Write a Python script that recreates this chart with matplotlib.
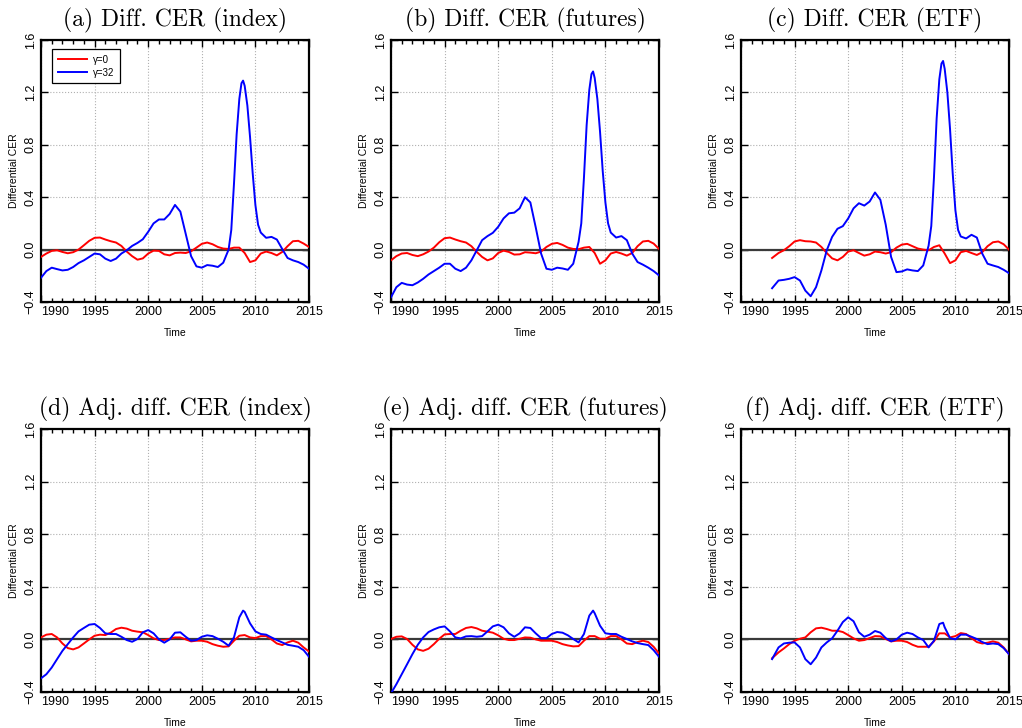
import numpy as np
import matplotlib.pyplot as plt
from matplotlib.ticker import MultipleLocator

plt.rcParams['font.family'] = ['Liberation Sans', 'DejaVu Sans']

# ---------- data ----------
half_years = np.arange(1990, 2015.01, 0.5)
etf_years = np.concatenate([[1992.9], np.arange(1993.5, 2015.01, 0.5)])

# finer sampling around the 2008 spike of the gamma=32 curves (top row)
spike_years = [2007.5, 2007.75, 2008, 2008.25, 2008.5, 2008.7, 2008.85, 2009.0,
               2009.25, 2009.5, 2009.75, 2010, 2010.25, 2010.5]
tail_years = np.arange(2011, 2015.01, 0.5)
yrs_spike = np.concatenate([np.arange(1990, 2007.01, 0.5), spike_years, tail_years])
yrs_spike_etf = np.concatenate([[1992.9], np.arange(1993.5, 2007.01, 0.5),
                                spike_years, tail_years])

# bottom row: half years plus the 2008.85 peak
yrs_adj = np.insert(half_years, 38, 2008.85)
yrs_adj_etf = np.insert(etf_years, 32, 2008.85)

red_a = [-0.056, -0.03, -0.01, -0.005, -0.018, -0.028, -0.02, 0.0, 0.033, 0.067,
         0.09, 0.092, 0.077, 0.064, 0.054, 0.028, -0.015, -0.05, -0.077, -0.067,
         -0.03, -0.008, -0.01, -0.036, -0.044, -0.026, -0.023, -0.026, -0.013, 0.015,
         0.044, 0.054, 0.041, 0.02, 0.008, 0.005, 0.015, 0.015, -0.026, -0.095,
         -0.082, -0.03, -0.015, -0.026, -0.044, -0.018, 0.026, 0.064, 0.067, 0.046,
         0.02]
blue_a = [-0.215, -0.164, -0.138, -0.149, -0.159, -0.154, -0.133, -0.103, -0.082, -0.056,
          -0.03, -0.036, -0.069, -0.087, -0.069, -0.03, -0.005, 0.028, 0.051, 0.079,
          0.136, 0.2, 0.23, 0.23, 0.272, 0.341, 0.29, 0.12, -0.05, -0.128,
          -0.138, -0.118, -0.123, -0.133, -0.1,
          0.0, 0.15, 0.5, 0.88, 1.15, 1.27, 1.29, 1.25, 1.1, 0.86, 0.58, 0.34, 0.19, 0.13,
          0.09, 0.097, 0.077, 0.005, -0.064, -0.082, -0.095, -0.115, -0.146]

red_b = [-0.082, -0.05, -0.03, -0.026, -0.041, -0.05, -0.036, -0.015, 0.015, 0.056,
         0.087, 0.092, 0.077, 0.064, 0.054, 0.026, -0.018, -0.056, -0.082, -0.067,
         -0.026, -0.008, -0.018, -0.038, -0.036, -0.02, -0.023, -0.028, -0.015, 0.02,
         0.044, 0.051, 0.036, 0.015, 0.005, 0.003, 0.015, 0.02, -0.026, -0.108,
         -0.082, -0.03, -0.018, -0.03, -0.046, -0.026, 0.026, 0.062, 0.067, 0.046,
         0.005]
blue_b = [-0.364, -0.287, -0.254, -0.267, -0.272, -0.251, -0.223, -0.19, -0.164, -0.138,
          -0.108, -0.108, -0.146, -0.164, -0.138, -0.082, -0.005, 0.072, 0.103, 0.128,
          0.174, 0.238, 0.277, 0.282, 0.315, 0.4, 0.36, 0.17, -0.03, -0.146,
          -0.154, -0.138, -0.144, -0.154, -0.108,
          0.06, 0.2, 0.55, 0.95, 1.22, 1.34, 1.36, 1.31, 1.15, 0.9, 0.6, 0.36, 0.2, 0.13,
          0.092, 0.103, 0.072, -0.03, -0.095, -0.115, -0.138, -0.164, -0.197]

red_c = [-0.064, -0.026, -0.005, 0.026, 0.062, 0.072, 0.064, 0.062, 0.054, 0.02,
         -0.026, -0.067, -0.082, -0.056, -0.015, -0.005, -0.026, -0.046, -0.036, -0.015,
         -0.02, -0.03, -0.02, 0.015, 0.038, 0.044, 0.026, 0.008, 0.0, -0.005,
         0.02, 0.033, -0.03, -0.103, -0.082, -0.02, -0.01, -0.026, -0.041, -0.02,
         0.026, 0.056, 0.062, 0.041, 0.0]
blue_c = [-0.295, -0.236, -0.231, -0.223, -0.21, -0.236, -0.313, -0.356, -0.287, -0.159,
          -0.005, 0.097, 0.159, 0.179, 0.238, 0.315, 0.354, 0.336, 0.367, 0.436,
          0.38, 0.19, -0.056, -0.172, -0.167, -0.151, -0.159, -0.164, -0.121,
          0.03, 0.18, 0.55, 1.0, 1.3, 1.42, 1.44, 1.38, 1.2, 0.92, 0.58, 0.3, 0.15, 0.1,
          0.085, 0.113, 0.092, -0.03, -0.108, -0.121, -0.133, -0.154, -0.18]

red_d = [0.015, 0.036, 0.041, 0.015, -0.031, -0.066, -0.076, -0.061, -0.031, 0.0,
         0.028, 0.036, 0.033, 0.051, 0.079, 0.089, 0.082, 0.066, 0.059, 0.054,
         0.033, 0.008, -0.005, -0.005, 0.005, 0.015, 0.015, 0.0, -0.015, -0.01,
         -0.01, -0.018, -0.036, -0.048, -0.056, -0.053, -0.01, 0.028, 0.033, 0.015,
         0.01, 0.025, 0.025, 0.0, -0.031, -0.043, -0.023, -0.01, -0.025, -0.061,
         -0.092]
blue_d = [-0.296, -0.265, -0.214, -0.15, -0.087, -0.036, 0.015, 0.061, 0.087, 0.112,
          0.117, 0.087, 0.046, 0.041, 0.041, 0.02, -0.005, -0.018, 0.003, 0.054,
          0.071, 0.046, 0.0, -0.025, 0.0, 0.051, 0.054, 0.02, -0.01, -0.005,
          0.02, 0.031, 0.025, 0.005, -0.018, -0.048, 0.015, 0.168,
          0.219,
          0.209, 0.122, 0.061, 0.041, 0.036, 0.015, -0.005, -0.023, -0.041, -0.048,
          -0.056, -0.082, -0.132]

red_e = [0.003, 0.02, 0.023, 0.003, -0.041, -0.076, -0.087, -0.071, -0.036, 0.005,
         0.038, 0.041, 0.041, 0.066, 0.087, 0.094, 0.084, 0.066, 0.059, 0.051,
         0.031, 0.005, -0.005, -0.005, 0.005, 0.015, 0.013, 0.0, -0.01, -0.01,
         -0.01, -0.02, -0.036, -0.046, -0.053, -0.051, -0.01, 0.025, 0.025, 0.005,
         0.005, 0.025, 0.025, 0.0, -0.031, -0.036, -0.02, -0.01, -0.02, -0.056,
         -0.107]
blue_e = [-0.41, -0.341, -0.265, -0.189, -0.112, -0.041, 0.015, 0.056, 0.076, 0.092,
          0.099, 0.061, 0.015, 0.008, 0.023, 0.025, 0.02, 0.025, 0.061, 0.099,
          0.112, 0.092, 0.046, 0.02, 0.046, 0.092, 0.087, 0.046, 0.01, 0.01,
          0.041, 0.056, 0.051, 0.031, 0.003, -0.023, 0.041, 0.181,
          0.219,
          0.199, 0.104, 0.046, 0.041, 0.041, 0.02, 0.003, -0.015, -0.028, -0.036,
          -0.043, -0.082, -0.132]

red_f = [-0.143, -0.099, -0.069, -0.036, -0.01, 0.005, 0.015, 0.054, 0.084, 0.089,
         0.079, 0.066, 0.066, 0.056, 0.033, 0.008, -0.01, -0.005, 0.01, 0.025,
         0.023, 0.003, -0.015, -0.01, -0.01, -0.02, -0.041, -0.056, -0.056, -0.056,
         -0.015, 0.046, 0.046, 0.015, 0.025, 0.048, 0.041, 0.01, -0.02, -0.031,
         -0.025, -0.015, -0.025, -0.061, -0.112]
blue_f = [-0.15, -0.061, -0.031, -0.025, -0.023, -0.061, -0.15, -0.189, -0.138, -0.061,
          -0.023, 0.008, 0.066, 0.132, 0.168, 0.138, 0.054, 0.02, 0.036, 0.064,
          0.051, 0.01, -0.015, 0.0, 0.036, 0.051, 0.041, 0.015, -0.005, -0.061,
          -0.01, 0.117,
          0.127,
          0.092, 0.01, 0.0, 0.036, 0.036, 0.02, 0.003, -0.02, -0.036, -0.031,
          -0.036, -0.066, -0.112]

titles = ["(a) Diff. CER (index)", "(b) Diff. CER (futures)", "(c) Diff. CER (ETF)",
          "(d) Adj. diff. CER (index)", "(e) Adj. diff. CER (futures)", "(f) Adj. diff. CER (ETF)"]
legend_labels = ["γ=0", "γ=32"]
x_ticks = [1990, 1995, 2000, 2005, 2010, 2015]
x_tick_labels = ["1990", "1995", "2000", "2005", "2010", "2015"]
y_ticks = [-0.4, 0.0, 0.4, 0.8, 1.2, 1.6]
y_tick_labels = ["\u22120.4", "0.0", "0.4", "0.8", "1.2", "1.6"]

panels = [
    (half_years, red_a, yrs_spike, blue_a),
    (half_years, red_b, yrs_spike, blue_b),
    (etf_years, red_c, yrs_spike_etf, blue_c),
    (half_years, red_d, yrs_adj, blue_d),
    (half_years, red_e, yrs_adj, blue_e),
    (etf_years, red_f, yrs_adj_etf, blue_f),
]

# ---------- figure ----------
W, H = 1022, 728
fig = plt.figure(figsize=(W / 100, H / 100), dpi=100)
lefts = [41, 391, 741]
rows = [(40, 302), (429, 692)]

for i, (xr, yr, xb, yb) in enumerate(panels):
    top, bot = rows[i // 3]
    left = lefts[i % 3]
    ax = fig.add_axes([left / W, 1 - bot / H, 268 / W, (bot - top) / H])

    ax.grid(True, which='major', linestyle=':', color='#b0b0b0', linewidth=0.8)
    ax.axhline(0, color='#3a3a3a', lw=1.6, zorder=2)
    ax.plot(xr, yr, color='red', lw=1.4, label=legend_labels[0], zorder=3)
    ax.plot(xb, yb, color='blue', lw=1.4, label=legend_labels[1], zorder=4)

    ax.set_xlim(1990, 2015)
    ax.set_ylim(-0.4, 1.6)
    ax.set_xticks(x_ticks)
    ax.set_xticklabels(x_tick_labels, fontsize=9)
    ax.get_xticklabels()[0].set_horizontalalignment('left')
    ax.xaxis.set_minor_locator(MultipleLocator(1))
    ax.set_yticks(y_ticks)
    ax.set_yticklabels(y_tick_labels, fontsize=9, rotation=90, va='center')
    ax.tick_params(which='both', direction='in', top=True, right=True, width=1)
    ax.tick_params(which='major', length=5, pad=3)
    ax.tick_params(which='minor', length=3)
    for s in ax.spines.values():
        s.set_linewidth(1.6)

    ax.set_xlabel("Time", fontsize=7.5, labelpad=7)
    ax.set_ylabel("Differential CER", fontsize=7.5, labelpad=4)
    ax.set_title(titles[i], fontfamily='cmr10', fontsize=17, pad=10)

    if i == 0:
        leg = ax.legend(loc='upper left', bbox_to_anchor=(0.041, 0.966), borderaxespad=0,
                        fontsize=7, fancybox=False, edgecolor='black', framealpha=1,
                        handlelength=3.0, handletextpad=0.6, borderpad=0.6,
                        labelspacing=0.3)
        leg.get_frame().set_linewidth(0.9)

fig.savefig("out.png", dpi=100)
